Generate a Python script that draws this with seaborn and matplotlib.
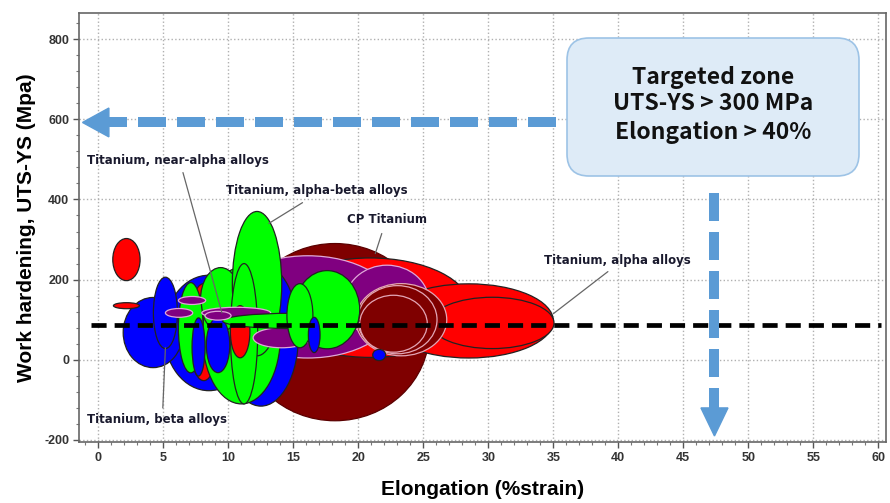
import numpy as np
import pandas as pd
import matplotlib
matplotlib.use("Agg")
import matplotlib.pyplot as plt
from matplotlib.patches import Ellipse, FancyBboxPatch, Polygon
from matplotlib.transforms import IdentityTransform
import seaborn as sns

# ellipse families (drawing order back -> front)
ell_family = [
    "cp", "alpha", "alpha", "alpha",
    "near", "near",
    "cp2", "cp2", "cp2",
    "beta", "beta", "beta", "alpha", "beta",
    "ab", "ab", "ab", "ab",
    "beta", "beta", "ab", "alpha",
    "near", "near", "ab", "ab", "ab", "beta",
    "near", "near", "near",
    "alpha", "alpha", "beta",
]
ell_x = [
    18.2, 20.9, 28.5, 30.3,
    16.1, 22.2,
    23.3, 23.0, 22.7,
    8.5, 4.2, 12.5, 8.1, 5.15,
    11.0, 9.4, 12.2, 7.1,
    7.7, 9.2, 11.2, 10.9,
    14.1, 10.6, 14.8, 17.6, 15.5, 16.6,
    6.2, 7.2, 9.2,
    2.15, 2.15, 21.6,
]
ell_y = [
    69, 130, 97, 92,
    132, 142,
    100, 100, 90,
    67, 68, 62, 69, 117,
    60, 150, 190, 80,
    32, 37, 65, 70,
    55, 117, 97, 125, 110, 62,
    117, 148, 110,
    250, 135, 12,
]
ell_w = [
    14.5, 15.4, 13.0, 9.5,
    13.5, 6.5,
    7.0, 6.1, 5.2,
    6.9, 4.6, 5.8, 2.4, 1.85,
    6.0, 3.1, 3.8, 1.9,
    1.0, 1.8, 2.1, 1.5,
    4.4, 5.3, 10.5, 5.0, 2.0, 0.9,
    2.1, 2.1, 2.0,
    2.1, 2.0, 1.0,
]
ell_h = [
    442, 248, 185, 128,
    255, 188,
    180, 170, 142,
    288, 175, 355, 242, 178,
    340, 160, 360, 225,
    145, 138, 350, 130,
    50, 28, 38, 195, 160, 88,
    22, 20, 22,
    105, 15, 28,
]

family_face = {
    "cp": "#7f0000", "cp2": "#7f0000", "alpha": "#ff0000", "near": "#800080",
    "ab": "#00ff00", "beta": "#0000ff",
}
family_edge = {
    "cp": "#5a0000", "cp2": "#e3a6b6", "alpha": "#222222", "near": "#e0a8d8",
    "ab": "#222222", "beta": "#222222",
}

# annotations: text, text position, leader start, leader tip
ann_text = ["Titanium, near-alpha alloys", "Titanium, alpha-beta alloys",
            "CP Titanium", "Titanium, alpha alloys", "Titanium, beta alloys"]
ann_tx = [-0.85, 9.85, 19.15, 34.3, -0.85]
ann_ty = [497, 422, 350, 247, -150]
ann_lx = [6.5, 15.7, 21.8, 39.2, 4.95]
ann_ly = [467, 392, 315, 220, -120]
ann_px = [9.5, 13.1, 21.3, 35.0, 5.15]
ann_py = [117, 340, 265, 115, 30]

box_lines = ["Targeted zone", "UTS-YS > 300 MPa", "Elongation > 40%"]

threshold_y = 88
target_y = 592
target_x = 47.4

sns.set_theme(style="white")
plt.rcParams["font.family"] = ["Liberation Sans", "DejaVu Sans"]
plt.rcParams["axes.unicode_minus"] = False

fig = plt.figure(figsize=(8.9, 5.03), dpi=100)
ax = fig.add_axes([79 / 890, 1 - 442 / 503, (886 - 79) / 890, (442 - 13) / 503])

for fam, x, y, w, h in zip(ell_family, ell_x, ell_y, ell_w, ell_h):
    ax.add_patch(Ellipse((x, y), w, h, facecolor=family_face[fam],
                         edgecolor=family_edge[fam], lw=0.9, zorder=3))

# black dashed threshold line
line_df = pd.DataFrame({"x": [-0.6, 60.2], "y": [threshold_y, threshold_y]})
sns.lineplot(data=line_df, x="x", y="y", ax=ax, color="black", lw=3.4,
             dashes=False, zorder=5)
ax.lines[-1].set_dashes([3.2, 1.7])

# blue dashed arrows
arrow_c = "#5b9bd5"
ax.plot([35.2, 0.77], [target_y, target_y], color=arrow_c, lw=7.2,
        dashes=[2.8, 1.1], solid_capstyle="butt", zorder=6)
ax.add_patch(Polygon([[-1.23, target_y], [0.8, target_y + 36], [0.8, target_y - 36]],
                     closed=True, color=arrow_c, zorder=6))
ax.plot([target_x, target_x], [415, -120], color=arrow_c, lw=7.2,
        dashes=[2.8, 1.1], solid_capstyle="butt", zorder=6)
ax.add_patch(Polygon([[target_x, -190], [target_x - 1.04, -120], [target_x + 1.04, -120]],
                     closed=True, color=arrow_c, zorder=6))

# targeted zone box
box = FancyBboxPatch((567, 503 - 176), 292, 138,
                     boxstyle="round,pad=0,rounding_size=22",
                     transform=IdentityTransform(), facecolor="#deebf7",
                     edgecolor="#9dc3e6", lw=1.2, zorder=7)
fig.patches.append(box)
box.set_figure(fig)
for txt, py in zip(box_lines, [77, 104, 132]):
    fig.text(713 / 890, 1 - py / 503, txt, ha="center", va="center",
             fontsize=16.5, color="#111111",
             family=["Noto Sans CJK SC", "DejaVu Sans"],
             weight="bold", zorder=8)

for t, tx, ty, lx, ly, px, py in zip(ann_text, ann_tx, ann_ty, ann_lx, ann_ly, ann_px, ann_py):
    ax.text(tx, ty, t, fontsize=8.5, weight="bold", color="#1a1a2e",
            ha="left", va="center", zorder=9, family=["DejaVu Sans"])
    ax.plot([lx, px], [ly, py], color="#666666", lw=0.9, zorder=9)

ax.set_xlim(-1.5, 60.6)
ax.set_ylim(-205, 865)
ax.set_xticks(np.arange(0, 61, 5))
ax.set_yticks(np.arange(-200, 801, 200))
ax.set_xticks(np.arange(-1, 61, 1), minor=True)
ax.set_yticks(np.arange(-200, 861, 40), minor=True)
ax.grid(True, which="major", ls=":", color="#b0b0b0", lw=1.0, zorder=0)
ax.set_axisbelow(True)
ax.tick_params(which="major", direction="out", length=4, width=1, color="#555555",
               labelsize=9, labelcolor="#333333", pad=3, left=True, bottom=True)
ax.tick_params(which="minor", direction="out", length=2, width=0.8, color="#777777",
               left=True, bottom=True)
for lab in ax.get_xticklabels() + ax.get_yticklabels():
    lab.set_fontweight("bold")
for s in ax.spines.values():
    s.set_color("#666666")
    s.set_linewidth(1.2)

ax.set_xlabel("Elongation (%strain)", fontsize=15, weight="bold", color="black", labelpad=12)
ax.set_ylabel("Work hardening, UTS-YS (Mpa)", fontsize=15, weight="bold", color="black", labelpad=6)

fig.savefig("out.png", dpi=100)
